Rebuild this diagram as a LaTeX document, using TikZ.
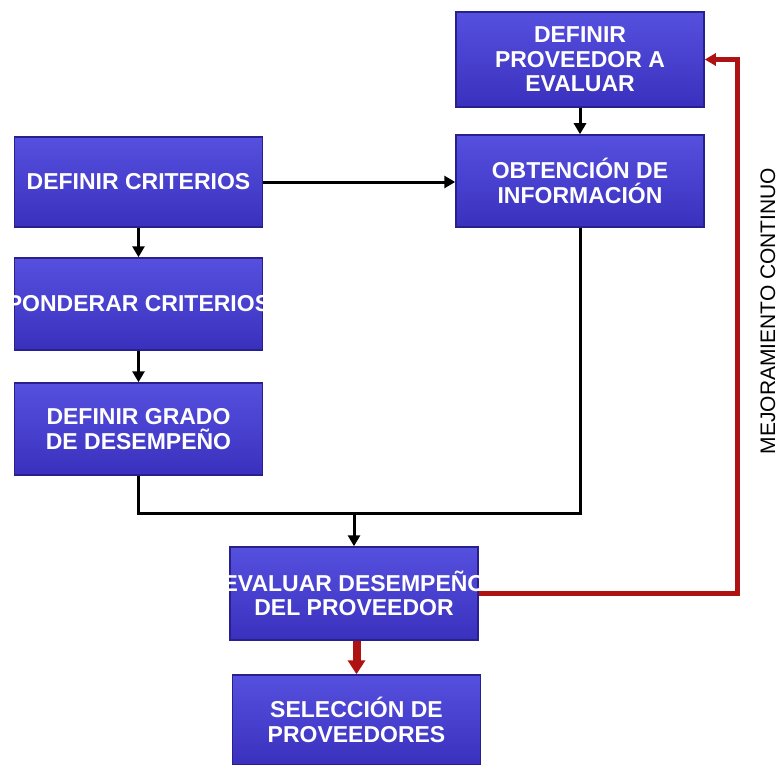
\documentclass[tikz,border=0pt]{standalone}
\usepackage{fontspec}
\setmainfont{Liberation Sans}
\usetikzlibrary{arrows.meta}
\definecolor{boxtop}{RGB}{86,80,222}
\definecolor{boxbot}{RGB}{58,48,190}
\definecolor{boxedge}{RGB}{40,32,140}
\definecolor{loopred}{RGB}{175,18,18}
\newcommand\sobra[1]{\makebox[0pt]{#1}}
\begin{document}
\begin{tikzpicture}[x=1pt, y=-1pt, >={Triangle[length=11pt,width=12pt]},
  paso/.style={draw=boxedge,line width=1.5pt,top color=boxtop,bottom color=boxbot,text=white,
    font=\fontsize{23}{24.5}\selectfont\bfseries,minimum width=248pt,minimum height=92pt,align=center,inner sep=0pt},
  flujo/.style={->,line width=3pt,black},
  mejora/.style={->,line width=5pt,loopred}]
\useasboundingbox (0,0) rectangle (779,765);
% right column
\node[paso,minimum height=95pt] (dpe) at (580,59.5) {DEFINIR\\PROVEEDOR A\\EVALUAR};
\node[paso] (obt) at (580,181) {OBTENCIÓN DE\\INFORMACIÓN};
% left column
\node[paso,minimum height=90pt] (dcr) at (138.5,182) {DEFINIR CRITERIOS};
\node[paso] (pon) at (138.5,304) {\sobra{PONDERAR CRITERIOS}};
\node[paso] (dgr) at (138.5,429) {DEFINIR GRADO\\DE DESEMPEÑO};
% bottom
\node[paso,minimum height=93pt] (eva) at (354,593.5) {\sobra{EVALUAR DESEMPEÑO}\\DEL PROVEEDOR};
\node[paso,minimum height=90pt] (sel) at (356.5,720) {SELECCIÓN DE\\PROVEEDORES};
\coordinate (jn) at (354,513);
\coordinate (rt) at (737,300);
\draw[flujo] (dpe) -- (obt);
\draw[flujo] (dcr.east) -- (dcr.east -| obt.west);
\draw[flujo] (dcr) -- (pon);
\draw[flujo] (pon) -- (dgr);
\draw[line width=3pt] (dgr.south) |- (jn) -| (obt.south);
\draw[flujo] (jn) -- (eva.north);
% feedback loop
\draw[mejora] (eva.east) -| (rt) |- (dpe.east);
\draw[->,line width=8pt,loopred,>={Triangle[length=14pt,width=17pt]}] (sel.north |- eva.south) -- (sel.north);
\node[rotate=90,font=\fontsize{21}{22}\selectfont] (lbl) at (768,311) {MEJORAMIENTO CONTINUO};
\end{tikzpicture}
\end{document}
